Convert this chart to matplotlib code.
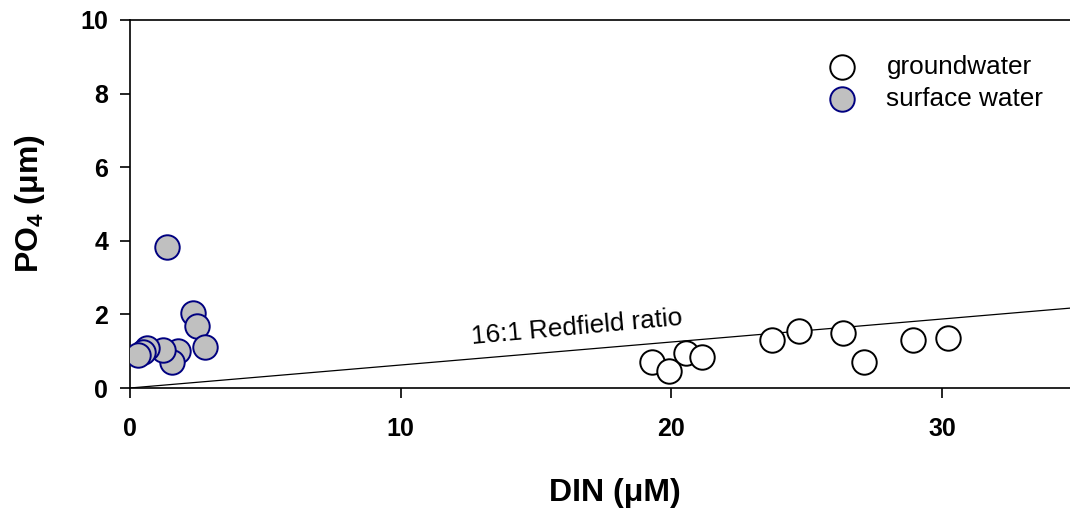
import matplotlib
matplotlib.use("Agg")
import matplotlib.pyplot as plt
import numpy as np

plt.rcParams['font.family'] = ['Liberation Sans', 'DejaVu Sans']
plt.rcParams['mathtext.fontset'] = 'custom'
plt.rcParams['mathtext.rm'] = 'Liberation Sans'
plt.rcParams['mathtext.bf'] = 'Liberation Sans:bold'

# Data
gw_din = [19.27, 19.91, 20.54, 21.12, 23.73, 24.73, 26.33, 27.13, 28.94, 30.23]
gw_po4 = [0.72, 0.47, 0.94, 0.83, 1.30, 1.56, 1.50, 0.70, 1.30, 1.35]
sw_din = [1.36, 2.31, 2.46, 2.78, 1.77, 1.54, 1.23, 0.62, 0.49, 0.31]
sw_po4 = [3.84, 2.03, 1.68, 1.11, 1.00, 0.72, 1.03, 1.08, 0.99, 0.90]
redfield_x = [0, 40]
redfield_ratio = 16
xticks = [0, 10, 20, 30]
yticks = [0, 2, 4, 6, 8, 10]

W, H = 1070, 518
fig = plt.figure(figsize=(W/100, H/100), dpi=100)
ax = fig.add_axes([130/W, 1-388/H, 947.5/W, (388-20)/H])

ax.plot(redfield_x, [v/redfield_ratio for v in redfield_x], color='black', lw=0.9, zorder=1)

ax.scatter(gw_din, gw_po4, s=310, facecolor='white', edgecolor='black', linewidths=1.4,
           zorder=3, label='groundwater')
ax.scatter(sw_din, sw_po4, s=310, facecolor='#c0c0c0', edgecolor='#000080', linewidths=1.4,
           zorder=3, label='surface water')

ax.text(12.63, 1.20, '16:1 Redfield ratio', fontsize=18.8, rotation=5.2,
        rotation_mode='anchor', ha='left', va='baseline')

ax.set_xlim(0, 35)
ax.set_ylim(0, 10)
ax.set_xticks(xticks)
ax.set_yticks(yticks)
ax.tick_params(direction='out', length=7.2, width=1.2, labelsize=18)
ax.tick_params(axis='x', pad=14)
ax.tick_params(axis='y', pad=8.5)
for lab in ax.get_xticklabels() + ax.get_yticklabels():
    lab.set_fontweight('bold')
for sp in ax.spines.values():
    sp.set_linewidth(1.2)

ax.set_xlabel('DIN (\u03bcM)', fontsize=23, fontweight='bold')
ax.xaxis.set_label_coords((615-130)/947.5, -(478-388)/368)
ax.set_ylabel('PO$_\\mathbf{4}$ (\u03bcm)', fontsize=23, fontweight='bold')
ax.yaxis.set_label_coords(-(130-47)/947.5, 0.5)

leg = ax.legend(loc='upper left', bbox_to_anchor=(816/W, 1-55/H), bbox_transform=fig.transFigure,
                frameon=False, fontsize=18.8, borderpad=0, borderaxespad=0,
                handlelength=2.0, handletextpad=0.7, labelspacing=0.3, scatterpoints=1)

fig.savefig('out.png', dpi=100)
